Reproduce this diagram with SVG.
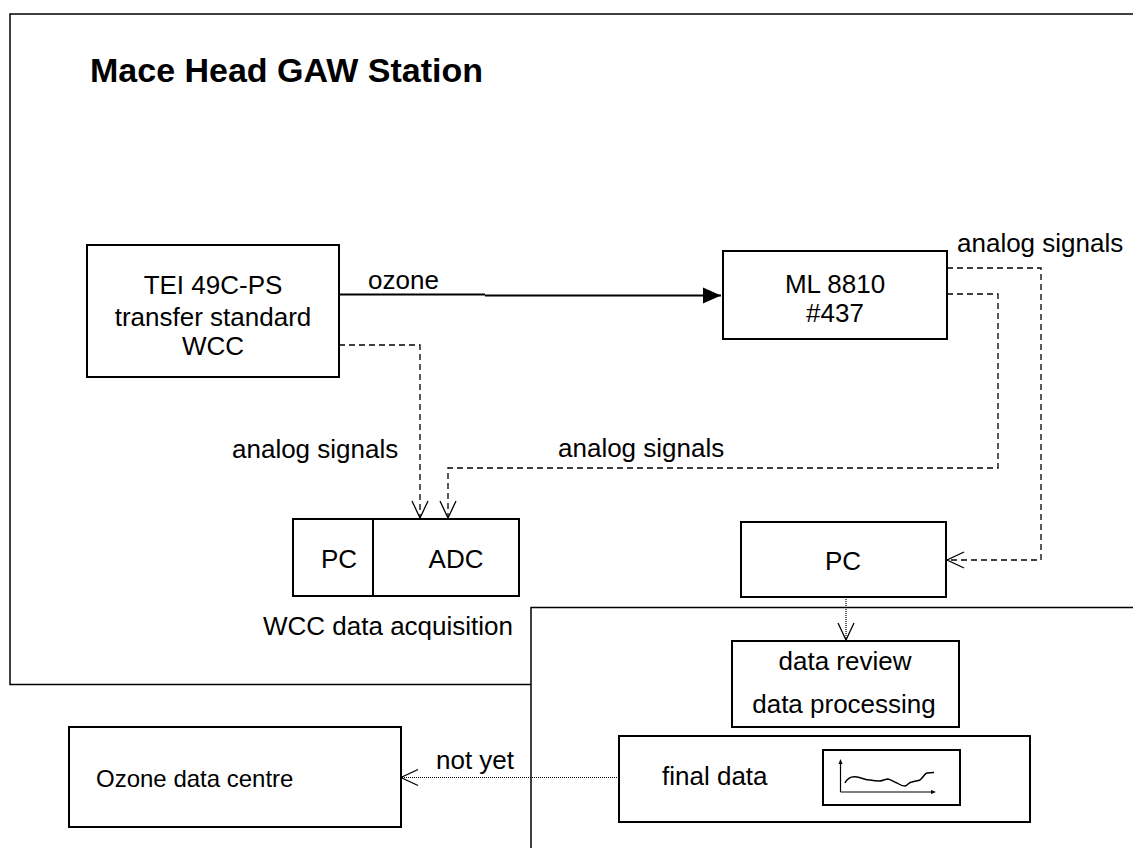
<svg xmlns="http://www.w3.org/2000/svg" width="1133" height="848" viewBox="0 0 1133 848">
<style>
text{font-family:"Liberation Sans",Arial,sans-serif;font-size:26px;fill:#000}
.c{text-anchor:middle}
.box{fill:#fff;stroke:#000;stroke-width:2}
.frame{fill:none;stroke:#000;stroke-width:1.5}
.dash{fill:none;stroke:#000;stroke-width:1.3;stroke-dasharray:6 4}
.dot{fill:none;stroke:#000;stroke-width:1.2;stroke-dasharray:1 1}
.solid{fill:none;stroke:#000;stroke-width:2}
</style>
<defs>
<marker id="open" viewBox="-19 -10 21 20" refX="0" refY="0" markerWidth="21" markerHeight="20" markerUnits="userSpaceOnUse" orient="auto">
<path d="M-17,-8 L0,0 L-17,8" fill="none" stroke="#000" stroke-width="1.3"/>
</marker>
<marker id="filled" viewBox="-19 -10 21 20" refX="0" refY="0" markerWidth="21" markerHeight="20" markerUnits="userSpaceOnUse" orient="auto">
<path d="M-18,-8 L0,0 L-18,8 Z" fill="#000"/>
</marker>
</defs>
<g id="frames">
<path class="frame" d="M1133,14 H10 V684.5 H531"/>
<path class="frame" d="M1133,607.5 H531 V848"/>
<text x="90" y="82" style="font-weight:bold;font-size:34px">Mace Head GAW Station</text>
</g>
<g id="connectors">
<path class="solid" d="M339,294.5 H485 M485,295.5 H721" marker-end="url(#filled)"/>
<text x="368" y="289">ozone</text>
<path class="dash" d="M339,345 H420 V518" marker-end="url(#open)"/>
<path class="dash" d="M947,294 H998 V468 H448 V518" marker-end="url(#open)"/>
<path class="dash" d="M947,268 H1041 V560 H947" marker-end="url(#open)"/>
<text x="957" y="252">analog signals</text>
<text x="232" y="458">analog signals</text>
<text x="558" y="457">analog signals</text>
<path class="dot" d="M846,597 V640" marker-end="url(#open)"/>
<path class="dot" d="M619,777.5 H401" marker-end="url(#open)"/>
<text x="436" y="769">not yet</text>
</g>
<g id="tei">
<rect class="box" x="87" y="245" width="252" height="132"/>
<text class="c" x="213" y="294">TEI 49C-PS</text>
<text class="c" x="213" y="326">transfer standard</text>
<text class="c" x="213" y="355">WCC</text>
</g>
<g id="ml8810">
<rect class="box" x="723" y="251" width="224" height="88"/>
<text class="c" x="835" y="293">ML 8810</text>
<text class="c" x="835" y="322">#437</text>
</g>
<g id="pc-adc">
<rect class="box" x="293" y="519" width="226" height="77"/>
<line x1="373" y1="519" x2="373" y2="596" stroke="#000" stroke-width="2"/>
<text class="c" x="339" y="568">PC</text>
<text class="c" x="456" y="568">ADC</text>
<text x="263" y="635">WCC data acquisition</text>
</g>
<g id="pc">
<rect class="box" x="741" y="522" width="205" height="75"/>
<text class="c" x="843" y="570">PC</text>
</g>
<g id="review">
<rect class="box" x="732" y="641" width="227" height="86"/>
<text class="c" x="845" y="670">data review</text>
<text class="c" x="844" y="713">data processing</text>
</g>
<g id="final">
<rect class="box" x="619" y="736" width="411" height="86"/>
<text x="662" y="785">final data</text>
<rect class="box" x="823" y="750" width="137" height="55"/>
<path d="M840.5,792 V761" fill="none" stroke="#000" stroke-width="1.2"/>
<path d="M838.5,764 L840.5,759 L842.5,764 Z" fill="#000"/>
<path d="M840.5,792 H934" fill="none" stroke="#000" stroke-width="1.2"/>
<path d="M931,790 L936,792 L931,794 Z" fill="#000"/>
<path d="M845,783 C848,777 852,776 857,777 C862,778 866,780 870,780 C875,781 878,781 880,781 C884,780 886,779 888,779 C892,780 894,782 897,783 C900,785 903,786 905,786 C908,785 909,782 912,782 C915,781 918,781 920,780 C923,778 924,774 927,773 C930,772.5 932,772.5 934,772.5" fill="none" stroke="#000" stroke-width="1.5"/>
</g>
<g id="ozone-centre">
<rect class="box" x="69" y="727" width="332" height="100"/>
<text x="96" y="787" style="font-size:24px">Ozone data centre</text>
</g>
</svg>
